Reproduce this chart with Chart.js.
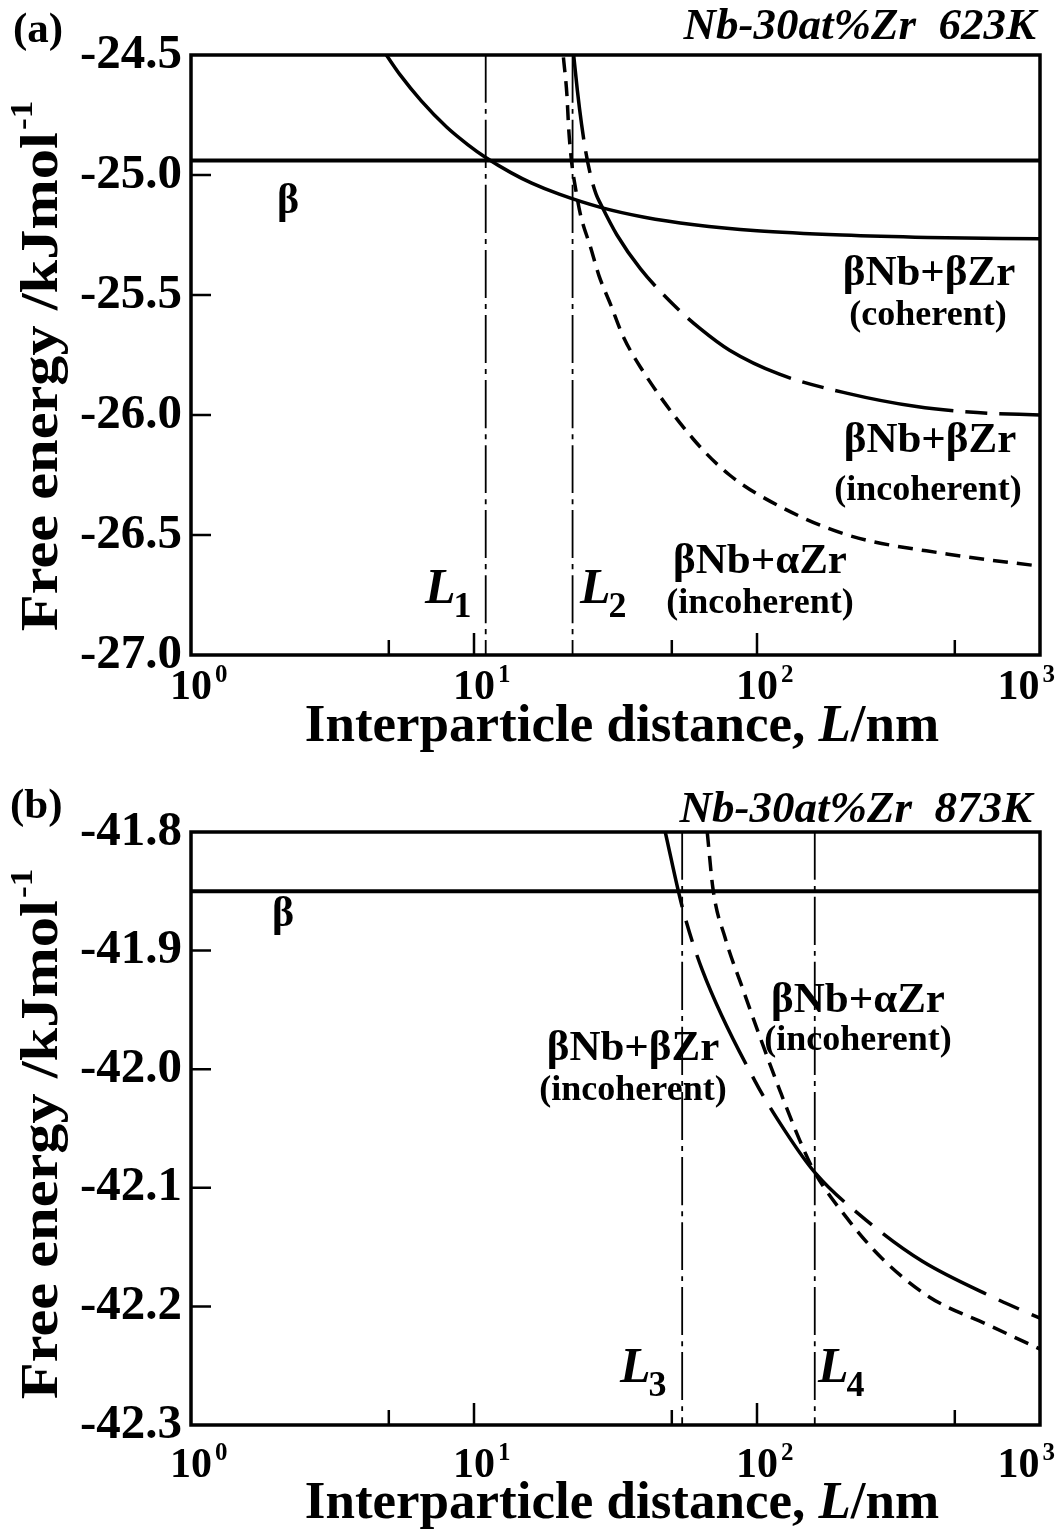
<!DOCTYPE html>
<html>
<head>
<meta charset="utf-8">
<script src="https://cdn.jsdelivr.net/npm/chart.js@4.4.0/dist/chart.umd.min.js"></script>
<style>
  html, body { margin: 0; padding: 0; background: #fff; }
  #wrap { position: relative; width: 1060px; height: 1535px; }
  canvas { position: absolute; left: 0; }
</style>
</head>
<body>
<div id="wrap">
  <canvas id="chartA" width="1060" height="767" style="top:0"></canvas>
  <canvas id="chartB" width="1060" height="768" style="top:767px"></canvas>
</div>
<script>
// Values (L in nm, free energy in kJ/mol)

// (a) Nb-30at%Zr 623K
const betaA_L = [1, 1000];
const betaA_G = [-24.94, -24.94];
const cohA_L = [4.9, 5.5, 6.5, 8, 9.5, 11, 13.5, 16, 20, 28, 40, 60, 100, 200, 400, 1000];
const cohA_G = [-24.50, -24.585, -24.69, -24.80, -24.873, -24.927, -24.99, -25.034, -25.08, -25.135,
                -25.176, -25.207, -25.232, -25.25, -25.26, -25.266];
const incA_L = [22.5, 23.2, 24.0, 24.8, 25.8, 27, 28, 32, 38.7, 50.6, 63, 80, 120, 209, 366, 600, 1000];
const incA_G = [-24.50, -24.65, -24.79, -24.90, -25.00, -25.08, -25.12, -25.25, -25.39, -25.54,
                -25.64, -25.73, -25.83, -25.91, -25.965, -25.99, -26.00];
const alphaA_L = [20.7, 21.3, 21.6, 22.1, 22.9, 23.8, 25.8, 27.6, 30.4, 33.5, 38.7, 59.5, 80, 120, 209, 474, 1000];
const alphaA_G = [-24.51, -24.667, -24.804, -24.94, -25.063, -25.167, -25.30, -25.417, -25.54, -25.667,
                  -25.80, -26.10, -26.25, -26.38, -26.50, -26.58, -26.63];
const L1 = 11.0;
const L2 = 22.3;

// (b) Nb-30at%Zr 873K
const betaB_L = [1, 1000];
const betaB_G = [-41.85, -41.85];
const incB_L = [47.4, 54.4, 64, 98.4, 125.6, 160, 254, 384, 678, 1000];
const incB_G = [-41.80, -41.863, -41.916, -42.01, -42.052, -42.087, -42.131, -42.162, -42.192, -42.21];
const alphaB_L = [66.7, 70, 77.1, 89.3, 102.5, 120.5, 141.6, 160, 207, 275, 406, 661, 1000];
const alphaB_G = [-41.80, -41.849, -41.889, -41.933, -41.973, -42.018, -42.06, -42.087, -42.125,
                  -42.159, -42.192, -42.216, -42.236];
const L3 = 54.4;
const L4 = 160;

// axes
const xMajorTicks = [10, 100];
const xMinorTicks = [5, 50, 500];
const xLabelExps = [0, 1, 2, 3];
const yTicksA = [-27.0, -26.5, -26.0, -25.5, -25.0, -24.5];
const yTicksB = [-42.3, -42.2, -42.1, -42.0, -41.9, -41.8];

const SERIF = "'Liberation Serif', 'DejaVu Serif', serif";
function font(size, weight, style) {
  return `${style || 'normal'} ${weight || 'bold'} ${size}px ${SERIF}`;
}

function pts(xs, ys) {
  return xs.map((x, i) => ({ x: x, y: ys[i] }));
}

function curve(xs, ys, width, dash, offset) {
  return {
    data: pts(xs, ys),
    borderColor: '#000',
    borderWidth: width,
    borderDash: dash || [],
    borderDashOffset: offset || 0,
    borderCapStyle: 'butt',
    pointRadius: 0,
    fill: false,
    cubicInterpolationMode: 'monotone'
  };
}

function vline(L, yMin, yMax) {
  return curve([L, L], [yMax, yMin], 1.8, [48, 6, 5, 6]);
}

// text helpers
function drawXTitle(ctx, cx, base) {
  const parts = [
    ['Interparticle distance, ', font(53)],
    ['L', font(53, 'bold', 'italic')],
    ['/nm', font(53)]
  ];
  let total = 0;
  parts.forEach(p => { ctx.font = p[1]; total += ctx.measureText(p[0]).width; });
  let x = cx - total / 2;
  ctx.textAlign = 'left';
  ctx.textBaseline = 'alphabetic';
  parts.forEach(p => {
    ctx.font = p[1];
    ctx.fillText(p[0], x, base);
    x += ctx.measureText(p[0]).width;
  });
}

function drawYTitle(ctx, bx, cy) {
  ctx.save();
  ctx.translate(bx, cy);
  ctx.rotate(-Math.PI / 2);
  ctx.scale(1.14, 1);  // the scanned title is stretched along its length
  const main = 'Free energy /kJmol';
  ctx.font = font(53);
  const w1 = ctx.measureText(main).width;
  ctx.font = font(31);
  const w2 = ctx.measureText('-1').width;
  const start = -(w1 + w2) / 2;
  ctx.textAlign = 'left';
  ctx.textBaseline = 'alphabetic';
  ctx.font = font(53);
  ctx.fillText(main, start, 0);
  ctx.font = font(31);
  ctx.fillText('-1', start + w1 + 2, -25);
  ctx.restore();
}

function drawLabelL(ctx, x, base, sub) {
  ctx.textAlign = 'left';
  ctx.textBaseline = 'alphabetic';
  ctx.font = font(50, 'bold', 'italic');
  ctx.fillText('L', x, base);
  const w = ctx.measureText('L').width;
  ctx.font = font(36);
  ctx.fillText(sub, x + w - 2, base + 14);
}

function decoPlugin(cfg) {
  return {
    id: 'deco',
    afterDatasetsDraw(chart) {
      const ctx = chart.ctx;
      const a = chart.chartArea;
      const xs = chart.scales.x;
      const ys = chart.scales.y;
      ctx.save();
      ctx.fillStyle = '#000';
      ctx.strokeStyle = '#000';

      // frame
      ctx.lineWidth = 3.5;
      ctx.strokeRect(a.left, a.top, a.right - a.left, a.bottom - a.top);

      // inward ticks
      ctx.lineWidth = 2.5;
      ctx.beginPath();
      xMajorTicks.forEach(v => {
        const px = xs.getPixelForValue(v);
        ctx.moveTo(px, a.bottom);
        ctx.lineTo(px, a.bottom - 22);
      });
      xMinorTicks.forEach(v => {
        const px = xs.getPixelForValue(v);
        ctx.moveTo(px, a.bottom);
        ctx.lineTo(px, a.bottom - 15);
      });
      cfg.yTicks.forEach(v => {
        const py = ys.getPixelForValue(v);
        ctx.moveTo(a.left, py);
        ctx.lineTo(a.left + 20, py);
      });
      ctx.stroke();

      // x tick labels 10^n, the last one pulled in so it stays on the page
      xLabelExps.forEach(e => {
        let px = xs.getPixelForValue(Math.pow(10, e));
        ctx.font = font(42);
        const w = ctx.measureText('10').width;
        ctx.font = font(25);
        const ws = ctx.measureText(String(e)).width;
        if (px + w / 2 + 3 + ws > 1055) px = 1055 - (w / 2 + 3 + ws);
        ctx.font = font(42);
        ctx.textAlign = 'center';
        ctx.textBaseline = 'alphabetic';
        ctx.fillText('10', px, a.bottom + cfg.xLabelGap);
        ctx.font = font(25);
        ctx.textAlign = 'left';
        ctx.fillText(String(e), px + w / 2 + 3, a.bottom + cfg.xLabelGap - 17);
      });

      // axis titles
      drawXTitle(ctx, 622, a.bottom + cfg.xTitleGap);
      drawYTitle(ctx, 57, cfg.yTitleY);

      // panel tag and alloy
      ctx.textBaseline = 'alphabetic';
      ctx.textAlign = 'left';
      ctx.font = font(43);
      ctx.fillText(cfg.tag, cfg.tagPos[0], cfg.tagPos[1]);
      ctx.textAlign = 'right';
      ctx.font = font(45, 'bold', 'italic');
      ctx.fillText(cfg.alloy, cfg.alloyPos[0], cfg.alloyPos[1]);

      // phase labels
      cfg.labels.forEach(l => {
        ctx.textAlign = 'center';
        ctx.font = font(l.size, l.weight || 'bold');
        ctx.fillText(l.text, l.x, l.y);
      });
      cfg.Llabels.forEach(l => drawLabelL(ctx, l.x, l.y, l.sub));
      ctx.restore();
    }
  };
}

function makeOptions(yMin, yMax, step, axisH, padTop) {
  return {
    responsive: false,
    animation: false,
    events: [],
    layout: { padding: { top: padTop, right: 20, left: 0, bottom: 0 } },
    plugins: { legend: { display: false }, tooltip: { enabled: false } },
    scales: {
      x: {
        type: 'logarithmic', min: 1, max: 1000,
        ticks: { display: false },
        grid: { display: false, drawTicks: false },
        border: { display: false },
        afterFit: s => { s.height = axisH; }
      },
      y: {
        type: 'linear', min: yMin, max: yMax,
        ticks: {
          stepSize: step, padding: 9, color: '#000',
          font: { family: SERIF, size: 49, weight: 'bold' },
          callback: v => Number(v).toFixed(1)
        },
        grid: { display: false, drawTicks: false },
        border: { display: false },
        afterFit: s => { s.width = 191; }
      }
    }
  };
}

// chart (a)
new Chart(document.getElementById('chartA'), {
  type: 'line',
  data: {
    datasets: [
      vline(L1, -27.0, -24.5),
      vline(L2, -27.0, -24.5),
      curve(betaA_L, betaA_G, 4),
      curve(cohA_L, cohA_G, 3.5),
      curve(incA_L, incA_G, 3.5, [120, 12, 22, 12], 35),
      curve(alphaA_L, alphaA_G, 3.5, [15, 9])
    ]
  },
  options: makeOptions(-27.0, -24.5, 0.5, 112, 55),
  plugins: [decoPlugin({
    yTicks: yTicksA.slice(1, -1),
    xLabelGap: 44, xTitleGap: 86, yTitleY: 367,
    tag: '(a)', tagPos: [13, 42],
    alloy: 'Nb-30at%Zr  623K', alloyPos: [1036, 39],
    labels: [
      { text: 'β', x: 288, y: 213, size: 42 },
      { text: 'βNb+βZr', x: 929, y: 285, size: 43 },
      { text: '(coherent)', x: 928, y: 325, size: 36 },
      { text: 'βNb+βZr', x: 930, y: 452, size: 43 },
      { text: '(incoherent)', x: 928, y: 500, size: 36 },
      { text: 'βNb+αZr', x: 760, y: 573, size: 43 },
      { text: '(incoherent)', x: 760, y: 613, size: 36 }
    ],
    Llabels: [
      { x: 425, y: 603, sub: '1' },
      { x: 580, y: 603, sub: '2' }
    ]
  })]
});

// chart (b)
new Chart(document.getElementById('chartB'), {
  type: 'line',
  data: {
    datasets: [
      vline(L3, -42.3, -41.8),
      vline(L4, -42.3, -41.8),
      curve(betaB_L, betaB_G, 4),
      curve(incB_L, incB_G, 3.5, [120, 14, 22, 14], 43),
      curve(alphaB_L, alphaB_G, 3.5, [15, 9])
    ]
  },
  options: makeOptions(-42.3, -41.8, 0.1, 110, 65),
  plugins: [decoPlugin({
    yTicks: yTicksB.slice(1, -1),
    xLabelGap: 52, xTitleGap: 93, yTitleY: 1135 - 767,
    tag: '(b)', tagPos: [10, 818 - 767],
    alloy: 'Nb-30at%Zr  873K', alloyPos: [1032, 822 - 767],
    labels: [
      { text: 'β', x: 283, y: 926 - 767, size: 42 },
      { text: 'βNb+αZr', x: 858, y: 1012 - 767, size: 43 },
      { text: '(incoherent)', x: 858, y: 1050 - 767, size: 36 },
      { text: 'βNb+βZr', x: 633, y: 1060 - 767, size: 43 },
      { text: '(incoherent)', x: 633, y: 1100 - 767, size: 36 }
    ],
    Llabels: [
      { x: 620, y: 1382 - 767, sub: '3' },
      { x: 818, y: 1382 - 767, sub: '4' }
    ]
  })]
});
</script>
</body>
</html>
